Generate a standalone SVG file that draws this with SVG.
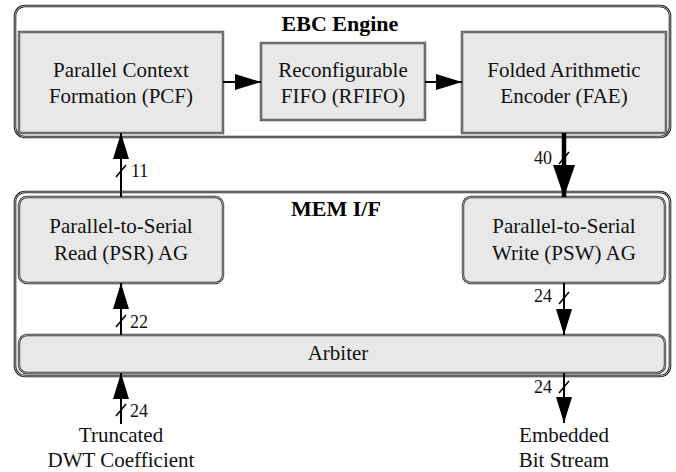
<svg xmlns="http://www.w3.org/2000/svg" width="676" height="472" viewBox="0 0 676 472">
  <style>
    .frame { fill: #ffffff; stroke: #1e1e1e; stroke-width: 2.6; }
    .frame-in { fill: none; stroke: #c8c8c8; stroke-width: 0.8; }
    .box { fill: #e8e8e8; stroke: #333333; stroke-width: 2.4; }
    .box-in { fill: none; stroke: #c4c4c4; stroke-width: 0.8; }
    text { font-family: 'Liberation Serif', 'Times New Roman', Times, 'DejaVu Serif', serif; }
    .lbl { font-size: 21px; fill: #111; text-anchor: middle; }
    .title { font-size: 22px; font-weight: bold; fill: #000; text-anchor: middle; }
    .bw { font-size: 18px; fill: #111; }
    .wire { stroke: #000; stroke-width: 2; fill: none; }
    .bus { stroke: #000; stroke-width: 4.5; fill: none; }
    .tick { stroke: #000; stroke-width: 1.5; }
  </style>
  <defs>
    <marker id="ah" markerUnits="userSpaceOnUse" markerWidth="26" markerHeight="16" refX="26" refY="8" orient="auto">
      <path d="M0,0 L26,8 L0,16 Z" fill="#000"/>
    </marker>
    <marker id="ahBig" markerUnits="userSpaceOnUse" markerWidth="32" markerHeight="22" refX="32" refY="11" orient="auto">
      <path d="M0,0 L32,11 L0,22 Z" fill="#000"/>
    </marker>
  </defs>

  <!-- EBC Engine container -->
  <g id="ebc-engine">
    <rect class="frame" x="15" y="6" width="655" height="131" rx="10"/>
    <rect class="frame-in" x="15" y="6" width="655" height="131" rx="10"/>
    <text class="title" x="340" y="31">EBC Engine</text>
  </g>

  <!-- MEM I/F container -->
  <g id="mem-if">
    <rect class="frame" x="15" y="192" width="655" height="184" rx="10"/>
    <rect class="frame-in" x="15" y="192" width="655" height="184" rx="10"/>
    <text class="title" x="336" y="216">MEM I/F</text>
  </g>

  <g id="pcf">
    <rect class="box" x="19" y="32" width="204" height="101"/>
    <rect class="box-in" x="19" y="32" width="204" height="101"/>
    <text class="lbl" x="121" y="77">Parallel Context</text>
    <text class="lbl" x="121" y="103">Formation (PCF)</text>
  </g>

  <g id="rfifo">
    <rect class="box" x="261" y="43" width="164" height="77"/>
    <rect class="box-in" x="261" y="43" width="164" height="77"/>
    <text class="lbl" x="343" y="77">Reconfigurable</text>
    <text class="lbl" x="343" y="103">FIFO (RFIFO)</text>
  </g>

  <g id="fae">
    <rect class="box" x="462" y="32" width="204" height="101"/>
    <rect class="box-in" x="462" y="32" width="204" height="101"/>
    <text class="lbl" x="564" y="77">Folded Arithmetic</text>
    <text class="lbl" x="564" y="103">Encoder (FAE)</text>
  </g>

  <g id="psr">
    <rect class="box" x="19" y="197" width="204" height="86" rx="8"/>
    <rect class="box-in" x="19" y="197" width="204" height="86" rx="8"/>
    <text class="lbl" x="121" y="233">Parallel-to-Serial</text>
    <text class="lbl" x="121" y="260">Read (PSR) AG</text>
  </g>

  <g id="psw">
    <rect class="box" x="463" y="197" width="202" height="86" rx="8"/>
    <rect class="box-in" x="463" y="197" width="202" height="86" rx="8"/>
    <text class="lbl" x="564" y="233">Parallel-to-Serial</text>
    <text class="lbl" x="564" y="260">Write (PSW) AG</text>
  </g>

  <g id="arbiter">
    <rect class="box" x="19" y="335" width="646" height="38" rx="8"/>
    <rect class="box-in" x="19" y="335" width="646" height="38" rx="8"/>
    <text class="lbl" x="338" y="360">Arbiter</text>
  </g>

  <g id="input-label">
    <text class="lbl" x="121" y="442">Truncated</text>
    <text class="lbl" x="121" y="467">DWT Coefficient</text>
  </g>

  <g id="output-label">
    <text class="lbl" x="564" y="442">Embedded</text>
    <text class="lbl" x="564" y="467">Bit Stream</text>
  </g>

  <!-- connectors with bus-width ticks -->
  <g id="connectors">
    <path class="wire" d="M223,82 H261" marker-end="url(#ah)"/>
    <path class="wire" d="M425,82 H462" marker-end="url(#ah)"/>

    <path class="wire" d="M121,197 V133" marker-end="url(#ah)"/>
    <line class="tick" x1="116" y1="177" x2="126" y2="165"/>
    <text class="bw" x="131" y="177">11</text>

    <path class="wire" d="M121,335 V283" marker-end="url(#ah)"/>
    <line class="tick" x1="116" y1="327" x2="126" y2="315"/>
    <text class="bw" x="130" y="328">22</text>

    <path class="wire" d="M121,424 V373" marker-end="url(#ah)"/>
    <line class="tick" x1="116" y1="416" x2="126" y2="404"/>
    <text class="bw" x="130" y="417">24</text>

    <path class="bus" d="M564,133 V197" marker-end="url(#ahBig)"/>
    <line class="tick" x1="559" y1="164" x2="569" y2="152"/>
    <text class="bw" x="552" y="164" text-anchor="end">40</text>

    <path class="wire" d="M564,283 V335" marker-end="url(#ah)"/>
    <line class="tick" x1="559" y1="304" x2="569" y2="292"/>
    <text class="bw" x="552" y="302" text-anchor="end">24</text>

    <path class="wire" d="M564,373 V423" marker-end="url(#ah)"/>
    <line class="tick" x1="559" y1="393" x2="569" y2="381"/>
    <text class="bw" x="552" y="393" text-anchor="end">24</text>
  </g>
</svg>
